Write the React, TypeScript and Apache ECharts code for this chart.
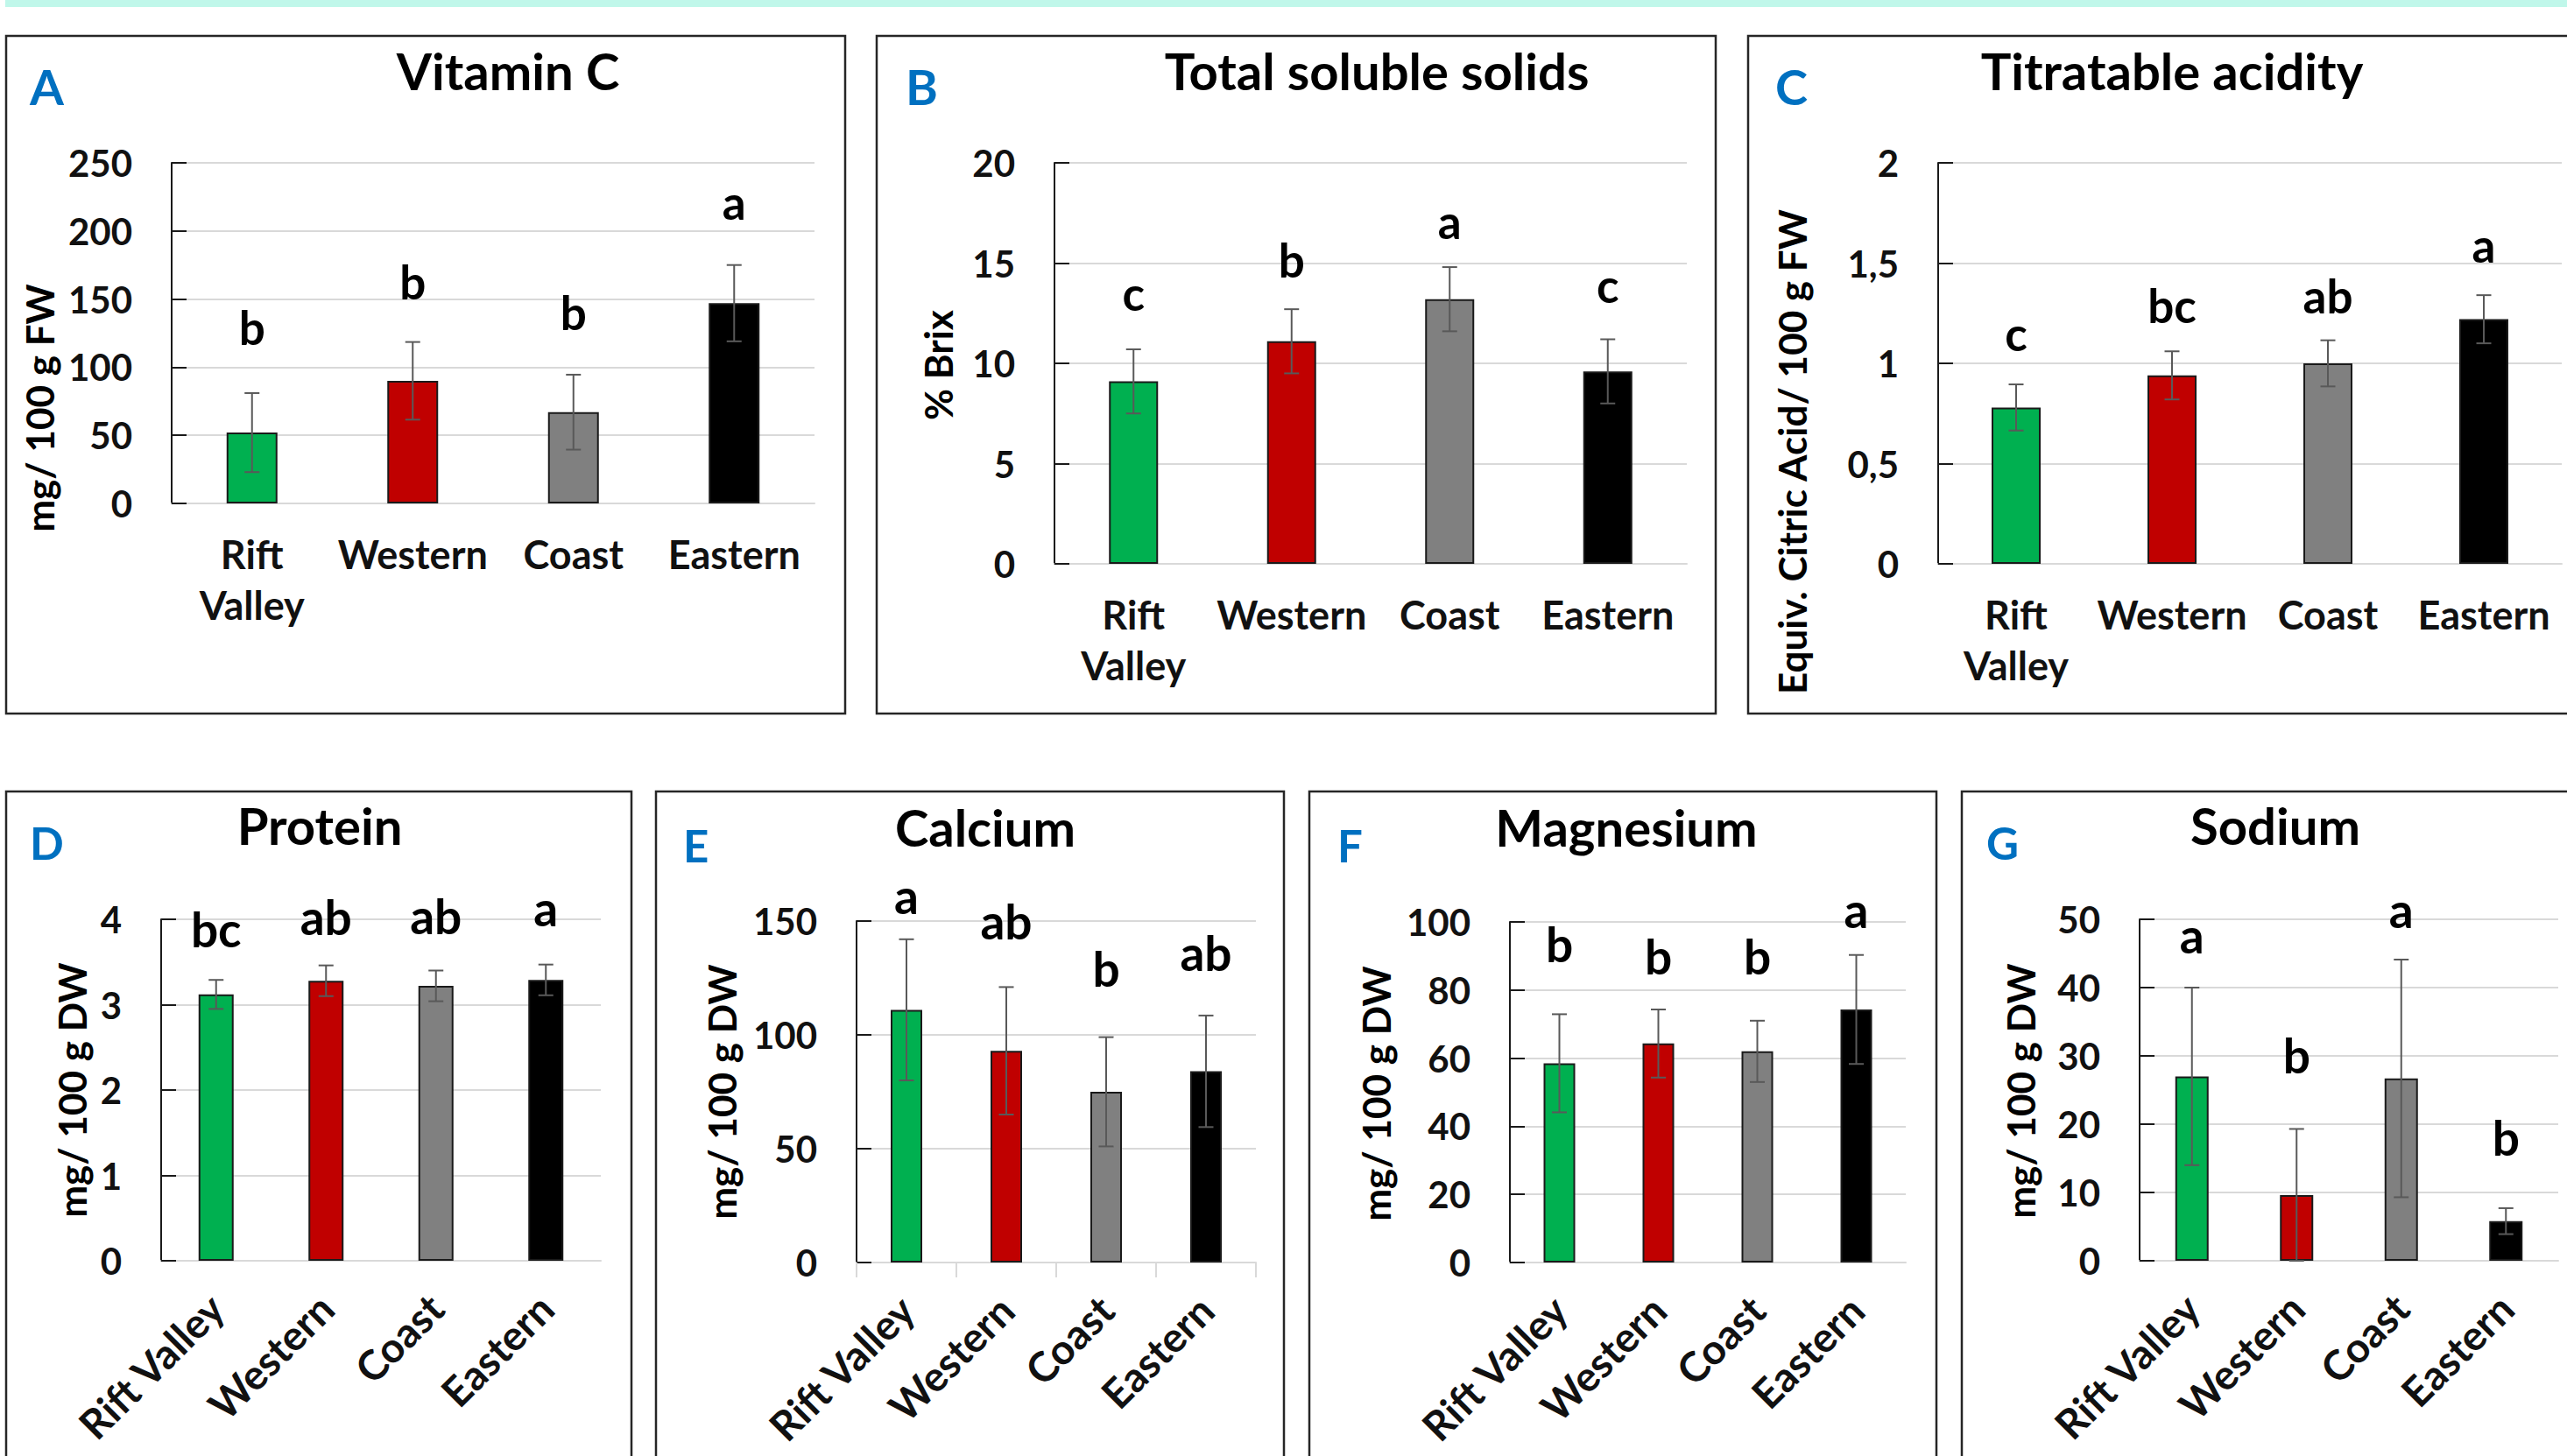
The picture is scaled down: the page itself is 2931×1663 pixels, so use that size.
import React, { useEffect, useRef } from "react";
import * as echarts from "echarts";

// ---------- data ----------
const categories = ["Rift Valley", "Western", "Coast", "Eastern"];
const regionColors = ["#00B050", "#C00000", "#808080", "#000000"];

const vitC = [52, 90, 67, 147];
const vitCErr = [29, 28.5, 27.5, 28];
const vitCLetters = ["b", "b", "b", "a"];
const vitCLetterLevels = [116, 150, 127, 208];

const tss = [9.1, 11.1, 13.2, 9.6];
const tssErr = [1.6, 1.6, 1.6, 1.6];
const tssLetters = ["c", "b", "a", "c"];
const tssLetterLevels = [12.6, 14.3, 16.2, 13.0];

const acidity = [0.78, 0.94, 1.0, 1.22];
const acidityErr = [0.115, 0.12, 0.115, 0.12];
const acidityLetters = ["c", "bc", "ab", "a"];
const acidityLetterLevels = [1.06, 1.2, 1.25, 1.5];

const protein = [3.12, 3.28, 3.22, 3.29];
const proteinErr = [0.17, 0.18, 0.18, 0.18];
const proteinLetters = ["bc", "ab", "ab", "a"];
const proteinLetterLevels = [3.67, 3.81, 3.82, 3.91];

const calcium = [111, 93, 75, 84];
const calciumErr = [31, 28, 24, 24.5];
const calciumLetters = ["a", "ab", "b", "ab"];
const calciumLetterLevels = [153, 142, 121, 128];

const magnesium = [58.5, 64.3, 62, 74.3];
const magnesiumErr = [14.4, 10, 9, 16];
const magnesiumLetters = ["b", "b", "b", "a"];
const magnesiumLetterLevels = [88, 84.5, 84.5, 98];

const sodium = [27, 9.6, 26.7, 5.8];
const sodiumErr = [13, 9.7, 17.4, 1.9];
const sodiumLetters = ["a", "b", "a", "b"];
const sodiumLetterLevels = [45, 27.4, 48.7, 15.4];

const panelTags = ["A", "B", "C", "D", "E", "F", "G"];
const panelTitles = ["Vitamin C", "Total soluble solids", "Titratable acidity", "Protein", "Calcium", "Magnesium", "Sodium"];
const yAxisNames = ["mg/ 100 g FW", "% Brix", "Equiv. Citric Acid/ 100 g FW", "mg/ 100 g DW", "mg/ 100 g DW", "mg/ 100 g DW", "mg/ 100 g DW"];
const yMax = [250, 20, 2, 4, 150, 100, 50];
const yStep = [50, 5, 0.5, 1, 50, 20, 10];

const seriesValues = [vitC, tss, acidity, protein, calcium, magnesium, sodium];
const seriesErrors = [vitCErr, tssErr, acidityErr, proteinErr, calciumErr, magnesiumErr, sodiumErr];
const seriesLetters = [vitCLetters, tssLetters, acidityLetters, proteinLetters, calciumLetters, magnesiumLetters, sodiumLetters];
const seriesLetterLevels = [vitCLetterLevels, tssLetterLevels, acidityLetterLevels, proteinLetterLevels, calciumLetterLevels, magnesiumLetterLevels, sodiumLetterLevels];

// ---------- layout ----------
const layouts = [
  { box: [7, 41, 958, 774], grid: { left: 196, top: 186, width: 734, height: 389 }, barWidth: 58, title: [580, 103], tag: [34, 120], yName: [45, 466], top: true },
  { box: [1001, 41, 958, 774], grid: { left: 1204, top: 186, width: 722, height: 458 }, barWidth: 56, title: [1572, 103], tag: [1034, 120], yName: [1071, 417], top: true },
  { box: [1996, 41, 1000, 774], grid: { left: 2213, top: 186, width: 712, height: 458 }, barWidth: 56, title: [2480, 103], tag: [2027, 120], yName: [2046, 516], top: true },
  { box: [7, 904, 714, 820], grid: { left: 184, top: 1050, width: 502, height: 390 }, barWidth: 40, title: [365, 965], tag: [34, 982], yName: [82, 1245], top: false },
  { box: [749, 904, 717, 820], grid: { left: 978, top: 1052, width: 456, height: 390 }, barWidth: 36, title: [1125, 967], tag: [780, 985], yName: [824, 1247], top: false, xTicks: true },
  { box: [1495, 904, 716, 820], grid: { left: 1724, top: 1053, width: 452, height: 389 }, barWidth: 36, title: [1857, 967], tag: [1527, 985], yName: [1571, 1249], top: false },
  { box: [2240, 904, 800, 820], grid: { left: 2443, top: 1050, width: 478, height: 390 }, barWidth: 38, title: [2598, 965], tag: [2268, 982], yName: [2307, 1246], top: false },
];

const FONT = "Lato";
const CENTRAL = 0.387; // central baseline offset (em) for Lato

function buildOption() {
  const grids: any[] = [];
  const xAxes: any[] = [];
  const yAxes: any[] = [];
  const series: any[] = [];
  const graphics: any[] = [];

  graphics.push({ type: "rect", shape: { x: 6, y: 0, width: 2925, height: 8 }, style: { fill: "#c0f7ea" }, silent: true });

  layouts.forEach((L, i) => {
    const titleFs = 58;
    const tagFs = L.top ? 56 : 51;
    const letterFs = L.top ? 53 : 55;
    grids.push({ ...L.grid, containLabel: false });
    xAxes.push({
      type: "category",
      gridIndex: i,
      data: categories,
      axisLine: { show: true, lineStyle: { color: "#d9d9d9", width: 2 } },
      axisTick: L.xTicks
        ? { show: true, alignWithLabel: false, interval: 0, length: 17, lineStyle: { color: "#d9d9d9", width: 2 } }
        : { show: false },
      axisLabel: {
        interval: 0,
        fontFamily: FONT,
        fontWeight: "bold",
        fontSize: L.top ? 45 : 47,
        color: "#111",
        rotate: L.top ? 0 : 45,
        margin: L.top ? 29 : 46,
        lineHeight: 58,
        formatter: L.top ? (v: string) => v.replace(" ", "\n") : undefined,
      },
    });
    yAxes.push({
      type: "value",
      gridIndex: i,
      min: 0,
      max: yMax[i],
      interval: yStep[i],
      axisLine: { show: true, lineStyle: { color: "#1a1a1a", width: 2 } },
      axisTick: { show: true, inside: true, length: 17, lineStyle: { color: "#1a1a1a", width: 2 } },
      splitLine: { show: true, lineStyle: { color: "#d9d9d9", width: 2 } },
      axisLabel: {
        fontFamily: FONT,
        fontWeight: "bold",
        fontSize: 42,
        color: "#111",
        margin: 45,
        formatter: (v: number) => String(v).replace(".", ","),
      },
    });

    const vals = seriesValues[i];
    const errs = seriesErrors[i];
    const lets = seriesLetters[i];
    const lvls = seriesLetterLevels[i];

    series.push({
      type: "bar",
      xAxisIndex: i,
      yAxisIndex: i,
      barWidth: L.barWidth,
      data: vals.map((v, k) => ({ value: v, itemStyle: { color: regionColors[k] } })),
      itemStyle: { borderColor: "#1a1a1a", borderWidth: 2 },
      z: 2,
    });
    series.push({
      type: "custom",
      xAxisIndex: i,
      yAxisIndex: i,
      z: 5,
      data: vals.map((v, k) => [k, v, errs[k]]),
      renderItem: (params: any, api: any) => {
        const k = api.value(0);
        const m = api.value(1);
        const e = api.value(2);
        const hi = api.coord([k, m + e]);
        const lo = api.coord([k, Math.max(0, m - e)]);
        const cap = 8.5;
        const st = { stroke: "#595959", lineWidth: 2 };
        return {
          type: "group",
          children: [
            { type: "line", shape: { x1: hi[0], y1: hi[1], x2: lo[0], y2: lo[1] }, style: st },
            { type: "line", shape: { x1: hi[0] - cap, y1: hi[1], x2: hi[0] + cap, y2: hi[1] }, style: st },
            { type: "line", shape: { x1: lo[0] - cap, y1: lo[1], x2: lo[0] + cap, y2: lo[1] }, style: st },
          ],
        };
      },
    });
    series.push({
      type: "custom",
      xAxisIndex: i,
      yAxisIndex: i,
      z: 6,
      clip: false,
      data: lvls.map((lv, k) => [k, lv]),
      renderItem: (params: any, api: any) => {
        const p = api.coord([api.value(0), api.value(1)]);
        return {
          type: "text",
          x: p[0],
          y: p[1] - CENTRAL * letterFs,
          style: {
            text: lets[params.dataIndex],
            fontFamily: FONT,
            fontWeight: "bold",
            fontSize: letterFs,
            fill: "#000",
            align: "center",
            verticalAlign: "middle",
          },
        };
      },
    });

    const [bx, by, bw, bh] = L.box;
    graphics.push({ type: "rect", shape: { x: bx, y: by, width: bw, height: bh }, style: { fill: "none", stroke: "#262626", lineWidth: 2.5 }, silent: true });
    graphics.push({
      type: "text",
      x: L.tag[0],
      y: L.tag[1] - CENTRAL * tagFs,
      style: { text: panelTags[i], fontFamily: FONT, fontWeight: "bold", fontSize: tagFs, fill: "#0070C0", align: "left", verticalAlign: "middle" },
    });
    graphics.push({
      type: "text",
      x: L.title[0],
      y: L.title[1] - CENTRAL * titleFs,
      style: { text: panelTitles[i], fontFamily: FONT, fontWeight: "bold", fontSize: titleFs, fill: "#000", align: "center", verticalAlign: "middle" },
    });
    graphics.push({
      type: "text",
      x: L.yName[0],
      y: L.yName[1],
      rotation: Math.PI / 2,
      style: { text: yAxisNames[i], fontFamily: FONT, fontWeight: "bold", fontSize: 44, fill: "#000", align: "center", verticalAlign: "middle" },
    });
  });

  return {
    animation: false,
    backgroundColor: "#ffffff",
    grid: grids,
    xAxis: xAxes,
    yAxis: yAxes,
    series,
    graphic: { elements: graphics },
  };
}

export default function App() {
  const ref = useRef<HTMLDivElement>(null);
  useEffect(() => {
    if (!ref.current) return;
    const chart = echarts.init(ref.current, undefined, { renderer: "svg" });
    chart.setOption(buildOption() as any);
    return () => chart.dispose();
  }, []);
  return <div ref={ref} style={{ position: "absolute", left: 0, top: 0, width: 2931, height: 1663 }} />;
}
